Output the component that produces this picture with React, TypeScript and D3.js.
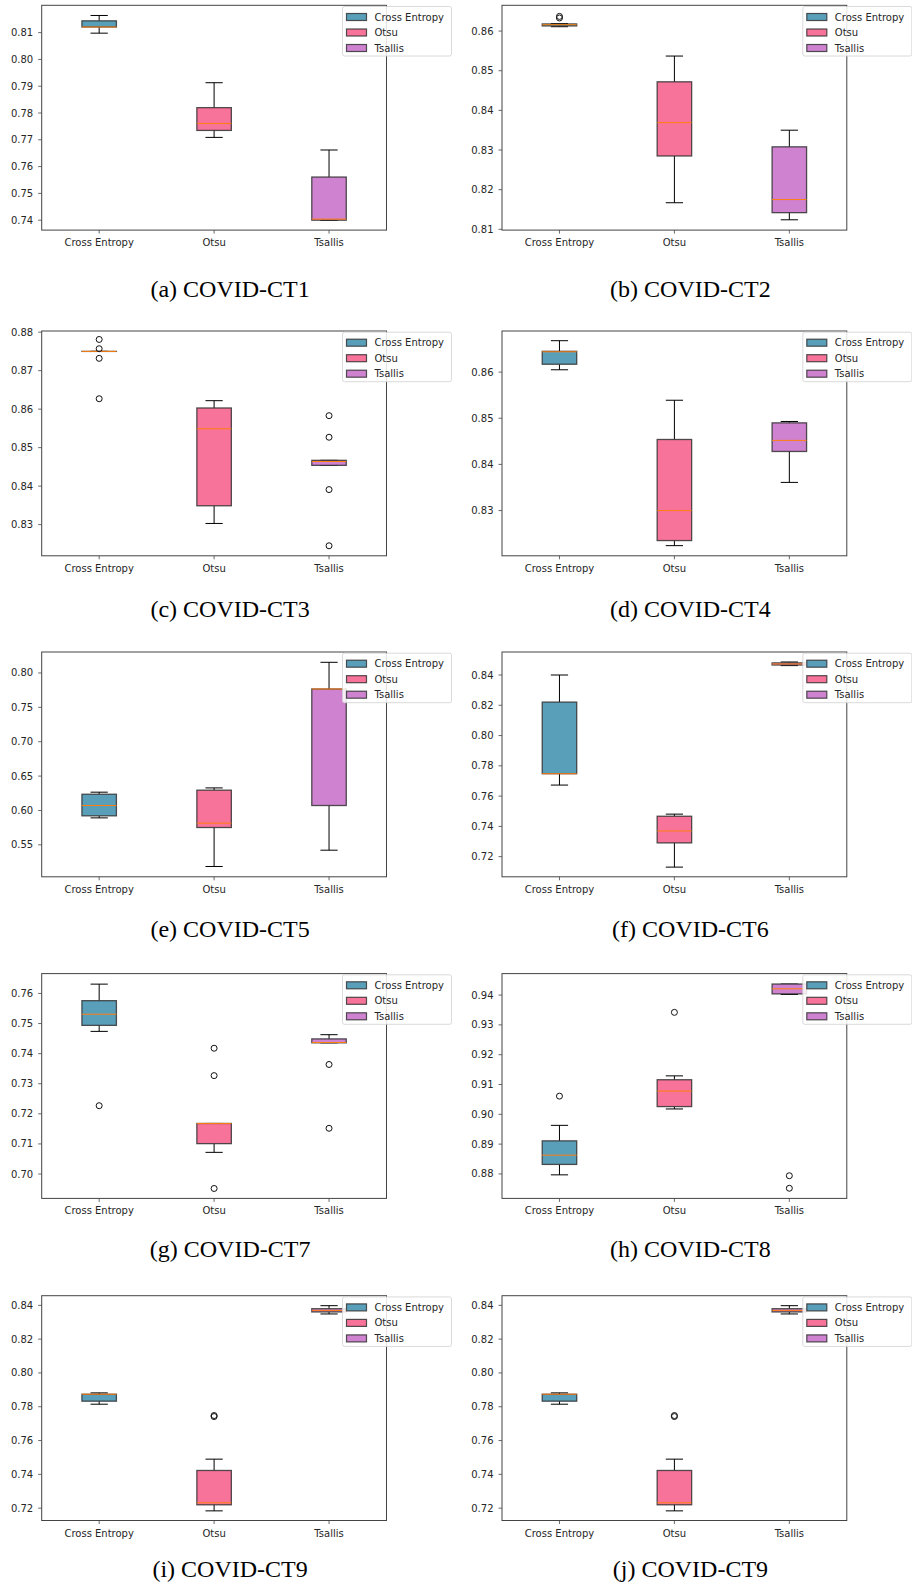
import React from "react";
import * as d3 from "d3";

const categories = ["Cross Entropy", "Otsu", "Tsallis"];
const boxColors = ["#5a9fba", "#f7739a", "#ce82cf"];

// [lowWhisker, q1, median, q3, highWhisker] per method
const ct1Boxes = [
  [0.8098, 0.8121, 0.8121, 0.8144, 0.8164],
  [0.7709, 0.7735, 0.7761, 0.782, 0.7913],
  [0.7399, 0.74, 0.7404, 0.7561, 0.7662],
];
const ct1Outliers = [[], [], []];
const ct1Domain = [0.7363, 0.8202];
const ct1Ticks = [0.74, 0.75, 0.76, 0.77, 0.78, 0.79, 0.8, 0.81];

const ct2Boxes = [
  [0.8611, 0.8613, 0.8616, 0.8618, 0.8619],
  [0.8167, 0.8285, 0.8369, 0.8472, 0.8537],
  [0.8124, 0.8142, 0.8175, 0.8308, 0.835],
];
const ct2Outliers = [[0.8633, 0.8637], [], []];
const ct2Domain = [0.8098, 0.8665];
const ct2Ticks = [0.81, 0.82, 0.83, 0.84, 0.85, 0.86];

const ct3Boxes = [
  [0.875, 0.875, 0.875, 0.875, 0.875],
  [0.8303, 0.8349, 0.8549, 0.8603, 0.8622],
  [0.8454, 0.8454, 0.8464, 0.8467, 0.8467],
];
const ct3Outliers = [[0.8781, 0.8757, 0.8732, 0.8627], [], [0.8583, 0.8527, 0.8391, 0.8245]];
const ct3Domain = [0.8219, 0.8803];
const ct3Ticks = [0.83, 0.84, 0.85, 0.86, 0.87, 0.88];

const ct4Boxes = [
  [0.8605, 0.8617, 0.8644, 0.8645, 0.8668],
  [0.8224, 0.8235, 0.83, 0.8454, 0.8539],
  [0.8361, 0.8428, 0.8452, 0.849, 0.8493],
];
const ct4Outliers = [[], [], []];
const ct4Domain = [0.8202, 0.8689];
const ct4Ticks = [0.83, 0.84, 0.85, 0.86];

const ct5Boxes = [
  [0.5892, 0.5922, 0.6072, 0.6236, 0.6266],
  [0.5185, 0.5752, 0.5815, 0.6295, 0.6328],
  [0.5422, 0.6072, 0.7767, 0.7767, 0.8155],
];
const ct5Outliers = [[], [], []];
const ct5Domain = [0.5035, 0.8305];
const ct5Ticks = [0.55, 0.6, 0.65, 0.7, 0.75, 0.8];

const ct6Boxes = [
  [0.7673, 0.7748, 0.7748, 0.8221, 0.84],
  [0.7131, 0.7291, 0.737, 0.7467, 0.7481],
  [0.8462, 0.8466, 0.8473, 0.848, 0.8486],
];
const ct6Outliers = [[], [], []];
const ct6Domain = [0.7067, 0.8552];
const ct6Ticks = [0.72, 0.74, 0.76, 0.78, 0.8, 0.82, 0.84];

const ct7Boxes = [
  [0.7474, 0.7494, 0.7531, 0.7576, 0.7631],
  [0.7072, 0.7101, 0.7168, 0.7168, 0.7168],
  [0.7436, 0.7436, 0.7437, 0.7449, 0.7463],
];
const ct7Outliers = [[0.7227], [0.7418, 0.7327, 0.6952], [0.7364, 0.7152]];
const ct7Domain = [0.6919, 0.7666];
const ct7Ticks = [0.7, 0.71, 0.72, 0.73, 0.74, 0.75, 0.76];

const ct8Boxes = [
  [0.8797, 0.8832, 0.8863, 0.8911, 0.8963],
  [0.9018, 0.9026, 0.9078, 0.9116, 0.9129],
  [0.9402, 0.9404, 0.9421, 0.9437, 0.9437],
];
const ct8Outliers = [[0.9061], [0.9342], [0.8794, 0.8752]];
const ct8Domain = [0.8718, 0.9472];
const ct8Ticks = [0.88, 0.89, 0.9, 0.91, 0.92, 0.93, 0.94];

const ct9Boxes = [
  [0.7815, 0.7833, 0.7874, 0.7874, 0.7882],
  [0.7184, 0.722, 0.7232, 0.7423, 0.749],
  [0.8349, 0.8361, 0.837, 0.838, 0.8398],
];
const ct9Outliers = [[], [0.7748, 0.7742], []];
const ct9Domain = [0.7127, 0.8457];
const ct9Ticks = [0.72, 0.74, 0.76, 0.78, 0.8, 0.82, 0.84];

const panels = [
  { caption: "(a) COVID-CT1", boxes: ct1Boxes, outliers: ct1Outliers, domain: ct1Domain, ticks: ct1Ticks },
  { caption: "(b) COVID-CT2", boxes: ct2Boxes, outliers: ct2Outliers, domain: ct2Domain, ticks: ct2Ticks },
  { caption: "(c) COVID-CT3", boxes: ct3Boxes, outliers: ct3Outliers, domain: ct3Domain, ticks: ct3Ticks },
  { caption: "(d) COVID-CT4", boxes: ct4Boxes, outliers: ct4Outliers, domain: ct4Domain, ticks: ct4Ticks },
  { caption: "(e) COVID-CT5", boxes: ct5Boxes, outliers: ct5Outliers, domain: ct5Domain, ticks: ct5Ticks },
  { caption: "(f) COVID-CT6", boxes: ct6Boxes, outliers: ct6Outliers, domain: ct6Domain, ticks: ct6Ticks },
  { caption: "(g) COVID-CT7", boxes: ct7Boxes, outliers: ct7Outliers, domain: ct7Domain, ticks: ct7Ticks },
  { caption: "(h) COVID-CT8", boxes: ct8Boxes, outliers: ct8Outliers, domain: ct8Domain, ticks: ct8Ticks },
  { caption: "(i) COVID-CT9", boxes: ct9Boxes, outliers: ct9Outliers, domain: ct9Domain, ticks: ct9Ticks },
  { caption: "(j) COVID-CT9", boxes: ct9Boxes, outliers: ct9Outliers, domain: ct9Domain, ticks: ct9Ticks },
];

// layout
const W = 912;
const H = 1587;
const colLeft = [41.7, 502];
const rowTop = [5.3, 331, 652, 973.6, 1295.7];
const captionBase = [296.7, 616.7, 936.7, 1256.7, 1576.7];
const plotW = 344.8;
const plotH = 224.8;
const fmt = d3.format(".2f");
const sans = "'DejaVu Sans', sans-serif";

function Panel({ p, left, top, capY }) {
  const y = d3.scaleLinear().domain(p.domain).range([top + plotH, top]);
  const x = d3.scalePoint().domain(categories).range([left, left + plotW]).padding(0.5);
  const step = x.step();
  const bw = 0.3 * step;
  const cw = 0.15 * step;
  const bottom = top + plotH;
  const right = left + plotW;
  const lx = right - 44;
  const ly = top + 1.2;
  return (
    <g>
      {p.boxes.map((b, i) => {
        const cx = x(categories[i]);
        const [lo, q1, med, q3, hi] = b;
        return (
          <g key={i}>
            <line x1={cx} x2={cx} y1={y(q1)} y2={y(lo)} stroke="#000" strokeWidth={1} />
            <line x1={cx} x2={cx} y1={y(q3)} y2={y(hi)} stroke="#000" strokeWidth={1} />
            <line x1={cx - cw / 2} x2={cx + cw / 2} y1={y(lo)} y2={y(lo)} stroke="#000" strokeWidth={1} />
            <line x1={cx - cw / 2} x2={cx + cw / 2} y1={y(hi)} y2={y(hi)} stroke="#000" strokeWidth={1} />
            <rect
              x={cx - bw / 2}
              y={y(q3)}
              width={bw}
              height={Math.max(0.01, y(q1) - y(q3))}
              fill={boxColors[i]}
              stroke="#333"
              strokeOpacity={0.85}
              strokeWidth={1.3}
            />
            <line x1={cx - bw / 2} x2={cx + bw / 2} y1={y(med)} y2={y(med)} stroke="#ff7f0e" strokeWidth={1} />
            {p.outliers[i].map((o, j) => (
              <circle key={j} cx={cx} cy={y(o)} r={3} fill="none" stroke="#111" strokeWidth={1} />
            ))}
          </g>
        );
      })}
      <rect x={left} y={top} width={plotW} height={plotH} fill="none" stroke="#444" strokeWidth={1} />
      {p.ticks.map((t) => (
        <g key={t}>
          <line x1={left - 3.5} x2={left} y1={y(t)} y2={y(t)} stroke="#444" strokeWidth={0.8} />
          <text x={left - 8.5} y={y(t)} dy="0.35em" textAnchor="end" fontFamily={sans} fontSize={10} fill="#262626">
            {fmt(t)}
          </text>
        </g>
      ))}
      {categories.map((c) => (
        <g key={c}>
          <line x1={x(c)} x2={x(c)} y1={bottom} y2={bottom + 3.5} stroke="#444" strokeWidth={0.8} />
          <text x={x(c)} y={bottom + 16} textAnchor="middle" fontFamily={sans} fontSize={10} fill="#262626">
            {c}
          </text>
        </g>
      ))}
      <rect x={lx} y={ly} width={109} height={49.5} rx={2} fill="#fff" fillOpacity={0.85} stroke="#d0d0d0" strokeWidth={0.8} />
      {categories.map((c, i) => (
        <g key={c}>
          <rect
            x={lx + 4}
            y={ly + 7 + i * 15.5}
            width={20}
            height={7}
            fill={boxColors[i]}
            stroke="#333"
            strokeOpacity={0.85}
            strokeWidth={1.2}
          />
          <text x={lx + 32} y={ly + 14 + i * 15.5} fontFamily={sans} fontSize={10} fill="#262626">
            {c}
          </text>
        </g>
      ))}
      <text
        x={left + plotW / 2 + 16}
        y={capY}
        textAnchor="middle"
        fontFamily="'Liberation Serif', 'Times New Roman', serif"
        fontSize={24}
        fill="#000"
      >
        {p.caption}
      </text>
    </g>
  );
}

export default function App() {
  return (
    <svg
      width={W}
      height={H}
      viewBox={`0 0 ${W} ${H}`}
      style={{ position: "absolute", left: 0, top: 0, background: "#fff" }}
    >
      <rect x={0} y={0} width={W} height={H} fill="#fff" />
      {panels.map((p, k) => {
        const r = Math.floor(k / 2);
        const c = k % 2;
        return <Panel key={k} p={p} left={colLeft[c]} top={rowTop[r]} capY={captionBase[r]} />;
      })}
    </svg>
  );
}
